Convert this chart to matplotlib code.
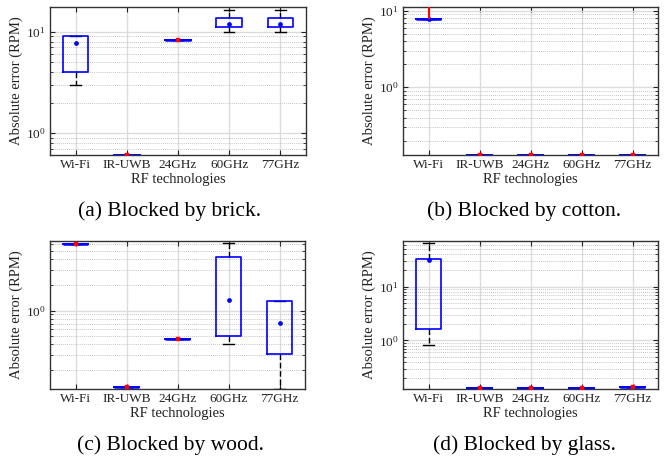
import matplotlib
matplotlib.use("Agg")
import matplotlib.pyplot as plt
from matplotlib.ticker import LogLocator, NullFormatter

plt.rcParams['font.family'] = ['Liberation Serif', 'DejaVu Serif']
plt.rcParams['mathtext.fontset'] = 'custom'
plt.rcParams['mathtext.rm'] = 'Liberation Serif'
plt.rcParams['mathtext.it'] = 'Liberation Serif:italic'

categories = ["Wi-Fi", "IR-UWB", "24GHz", "60GHz", "77GHz"]

# (a) brick
brick_q1 = [4.0, 0.61, 8.2, 11.0, 11.0]
brick_q3 = [9.0, 0.61, 8.2, 13.5, 13.5]
brick_lo = [3.0, 0.61, 8.2, 10.0, 10.0]
brick_hi = [9.0, 0.61, 8.2, 16.3, 16.3]
brick_mean = [7.8, 0.61, 8.2, 11.9, 11.9]
brick_red = [None, 0.61, 8.2, None, None]
brick_ylim = (0.61, 17.5)

# (b) cotton
cotton_q1 = [7.85, 0.13, 0.13, 0.13, 0.13]
cotton_q3 = [7.85, 0.13, 0.13, 0.13, 0.13]
cotton_lo = [7.85, 0.13, 0.13, 0.13, 0.13]
cotton_hi = [7.85, 0.13, 0.13, 0.13, 0.13]
cotton_mean = [7.85, 0.13, 0.13, 0.13, 0.13]
cotton_red = [None, 0.13, 0.13, 0.13, 0.13]
cotton_outlier_range = (7.85, 12.0)   # dense red outliers for Wi-Fi
cotton_ylim = (0.13, 11.2)

# (c) wood
wood_q1 = [6.0, 0.126, 0.466, 0.50, 0.31]
wood_q3 = [6.0, 0.126, 0.466, 4.3, 1.30]
wood_lo = [6.0, 0.126, 0.466, 0.40, 0.12]
wood_hi = [6.0, 0.126, 0.466, 6.15, 1.30]
wood_mean = [6.0, 0.126, 0.466, 1.32, 0.71]
wood_red = [6.0, 0.126, 0.466, None, None]
wood_ylim = (0.12, 6.55)

# (d) glass
glass_q1 = [1.62, 0.13, 0.13, 0.13, 0.135]
glass_q3 = [32.0, 0.13, 0.13, 0.13, 0.135]
glass_lo = [0.83, 0.13, 0.13, 0.13, 0.135]
glass_hi = [65.0, 0.13, 0.13, 0.13, 0.135]
glass_mean = [31.0, 0.13, 0.13, 0.13, 0.135]
glass_red = [None, 0.13, 0.13, 0.13, 0.135]
glass_ylim = (0.126, 70.0)

captions = ["(a) Blocked by brick.", "(b) Blocked by cotton.",
            "(c) Blocked by wood.", "(d) Blocked by glass."]

panels = [
    (brick_q1, brick_q3, brick_lo, brick_hi, brick_mean, brick_red, brick_ylim, None),
    (cotton_q1, cotton_q3, cotton_lo, cotton_hi, cotton_mean, cotton_red, cotton_ylim, cotton_outlier_range),
    (wood_q1, wood_q3, wood_lo, wood_hi, wood_mean, wood_red, wood_ylim, None),
    (glass_q1, glass_q3, glass_lo, glass_hi, glass_mean, glass_red, glass_ylim, None),
]

W, H = 668, 462
fig = plt.figure(figsize=(W / 100, H / 100), dpi=100)

rects = [(50, 7, 306, 155), (403, 7, 658, 155), (50, 241, 305, 389), (403, 241, 658, 389)]
cap_pos = [(170, 211), (524, 211), (170, 445), (524, 445)]

blue = '#0000ff'
for i, (q1, q3, lo, hi, mean, red, ylim, orange) in enumerate(panels):
    l, t, r, b = rects[i]
    ax = fig.add_axes([l / W, 1 - b / H, (r - l) / W, (b - t) / H])
    ax.set_yscale('log')
    stats = []
    for k in range(len(categories)):
        stats.append(dict(med=q3[k], q1=q1[k], q3=q3[k], whislo=lo[k], whishi=hi[k],
                          mean=mean[k], fliers=[], label=categories[k]))
    pos = list(range(1, len(categories) + 1))
    ax.bxp(stats, positions=pos, widths=0.5, showfliers=False, showmeans=False,
           capwidths=0.2,
           boxprops=dict(color=blue, linewidth=1.2, zorder=4),
           whiskerprops=dict(color='black', linewidth=1.0, linestyle=(0, (4, 2)), zorder=3),
           capprops=dict(color='black', linewidth=1.0, zorder=3),
           medianprops=dict(linewidth=0))
    for k in range(len(categories)):
        if red[k] is None:
            ax.plot(pos[k], mean[k], marker='o', ms=2.4, color=blue, mec=blue, zorder=6)
        else:
            ax.plot([pos[k] - 0.25, pos[k] + 0.25], [red[k], red[k]], color=blue, lw=1.8,
                    zorder=5, solid_capstyle='butt')
            ax.plot(pos[k], red[k], marker='s', ms=3.0, color='red', mec='red', mew=0.3,
                    zorder=6, clip_on=True)
    if orange is not None:
        ax.vlines(pos[0], orange[0], orange[1], color='red', lw=1.5, zorder=6)
        ax.plot([pos[0] - 0.25, pos[0] + 0.25], [q1[0], q1[0]], color=blue, lw=1.8, zorder=5,
                solid_capstyle='butt')

    ax.set_xlim(0.5, 5.5)
    ax.set_ylim(*ylim)
    ax.set_xticks(pos)
    ax.set_xticklabels(categories, fontsize=9.5, color='#222222')
    ax.yaxis.set_major_locator(LogLocator(base=10, numticks=10))
    ax.yaxis.set_minor_locator(LogLocator(base=10, subs=range(2, 10), numticks=20))
    ax.yaxis.set_minor_formatter(NullFormatter())
    ax.tick_params(axis='both', which='both', direction='in', top=True, right=True,
                   colors='#222222')
    ax.tick_params(axis='both', which='major', length=3.5, width=0.8, labelsize=9.5, pad=3)
    ax.tick_params(axis='y', which='minor', length=2, width=0.6)
    ax.tick_params(axis='x', which='minor', length=0)
    ax.grid(True, which='major', axis='both', color='#dcdcdc', linewidth=1.0, zorder=0)
    ax.grid(True, which='minor', axis='y', color='#b0b0b0', linewidth=0.6,
            linestyle=(0, (1, 1.5)), zorder=0)
    ax.set_axisbelow(True)
    for s in ax.spines.values():
        s.set_color('#333333')
        s.set_linewidth(1.0)
    ax.set_xlabel("RF technologies", fontsize=10.5, color='#222222', labelpad=1)
    ax.set_ylabel("Absolute error (RPM)", fontsize=10.5, color='#222222', labelpad=2)
    cx, cy = cap_pos[i]
    fig.text(cx / W, 1 - cy / H, captions[i], ha='center', va='center', fontsize=15.5,
             color='black')

fig.savefig("out.png", dpi=100)
